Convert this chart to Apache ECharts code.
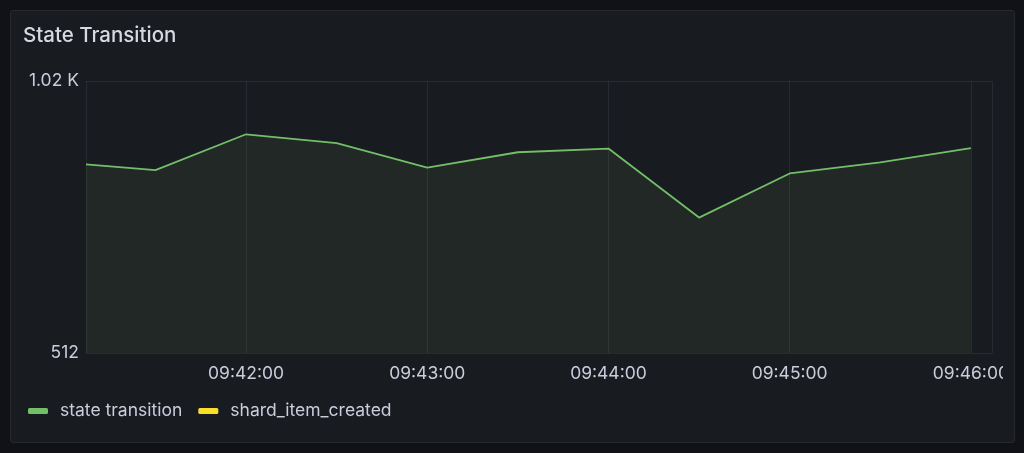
<!DOCTYPE html>
<html>
<head>
<meta charset="utf-8">
<script src="https://cdn.jsdelivr.net/npm/echarts@6/dist/echarts.min.js"></script>
<style>
  html, body { margin: 0; padding: 0; background: #111217; width: 1024px; height: 453px; overflow: hidden; }
  #panel { position: absolute; left: 10px; top: 10px; width: 1003px; height: 431px; background: #181b1f; border: 1px solid #26282d; border-radius: 3px; }
  #chart { position: absolute; left: 0; top: 0; width: 1003px; height: 453px; }
</style>
</head>
<body>
<div id="panel"></div>
<div id="chart"></div>
<script>
// Data
const title = "State Transition";
const seriesNames = ["state transition", "shard_item_created"];
const times = ["09:41:07", "09:41:30", "09:42:00", "09:42:30", "09:43:00", "09:43:30", "09:44:00", "09:44:30", "09:45:00", "09:45:30", "09:46:00"];
const stateTransition = [828, 816, 894, 874, 821, 854, 862, 723, 809, 832, 863];
const shardItemCreated = [];
const xRange = ["09:41:07", "09:46:07"];
const yRange = [512, 1024];

function toTs(s) {
  const [h, m, sec] = s.split(":").map(Number);
  return new Date(2024, 0, 15, h, m, sec).getTime();
}
function pad(n) { return String(n).padStart(2, "0"); }
function yFmt(v) {
  if (v >= 1000) return (v / 1000).toFixed(2) + " K";
  return String(Math.round(v));
}

const chart = echarts.init(document.getElementById("chart"), null, { renderer: "canvas" });
const textColor = "#ccccdc";
const font = "Inter";
chart.setOption({
  backgroundColor: "transparent",
  animation: false,
  title: {
    text: title, left: 23, top: 25, padding: 0,
    textStyle: { color: "#d8d9e0", fontFamily: font, fontSize: 20.5, fontWeight: 500 }
  },
  legend: {
    left: 28, top: 402, padding: 0, icon: "roundRect", itemWidth: 20, itemHeight: 6, itemGap: 16,
    data: seriesNames,
    textStyle: { color: textColor, fontFamily: font, fontSize: 17.5, padding: [0, 0, 0, 7] }
  },
  grid: { left: 86, right: 11, top: 81, bottom: 100, containLabel: false, outerBoundsMode: "none" },
  xAxis: {
    type: "time",
    min: toTs(xRange[0]), max: toTs(xRange[1]),
    splitNumber: 5, minInterval: 60000, maxInterval: 60000,
    axisLine: { show: false }, axisTick: { show: false },
    axisLabel: {
      color: textColor, fontFamily: font, fontSize: 17.5, margin: 12,
      showMinLabel: false, showMaxLabel: false,
      formatter: function (v) { const d = new Date(v); return pad(d.getHours()) + ":" + pad(d.getMinutes()) + ":" + pad(d.getSeconds()); }
    },
    splitLine: { show: true, lineStyle: { color: "rgba(204,204,220,0.09)", width: 1 } }
  },
  yAxis: {
    type: "log", logBase: 2,
    min: yRange[0], max: yRange[1],
    axisLine: { show: false }, axisTick: { show: false },
    axisLabel: { color: textColor, fontFamily: font, fontSize: 17.5, margin: 7, formatter: yFmt },
    splitLine: { show: true, lineStyle: { color: "rgba(204,204,220,0.09)", width: 1 } }
  },
  series: [
    {
      name: seriesNames[0], type: "line", symbol: "none", showSymbol: false,
      data: times.map((t, i) => [toTs(t), stateTransition[i]]),
      lineStyle: { color: "#73BF69", width: 1.8 },
      itemStyle: { color: "#73BF69" },
      areaStyle: { color: "rgba(140,185,120,0.12)", origin: "start" }
    },
    {
      name: seriesNames[1], type: "line", symbol: "none", showSymbol: false,
      data: shardItemCreated,
      lineStyle: { color: "#FADE2A", width: 1.5 },
      itemStyle: { color: "#FADE2A" }
    }
  ]
});
</script>
</body>
</html>
